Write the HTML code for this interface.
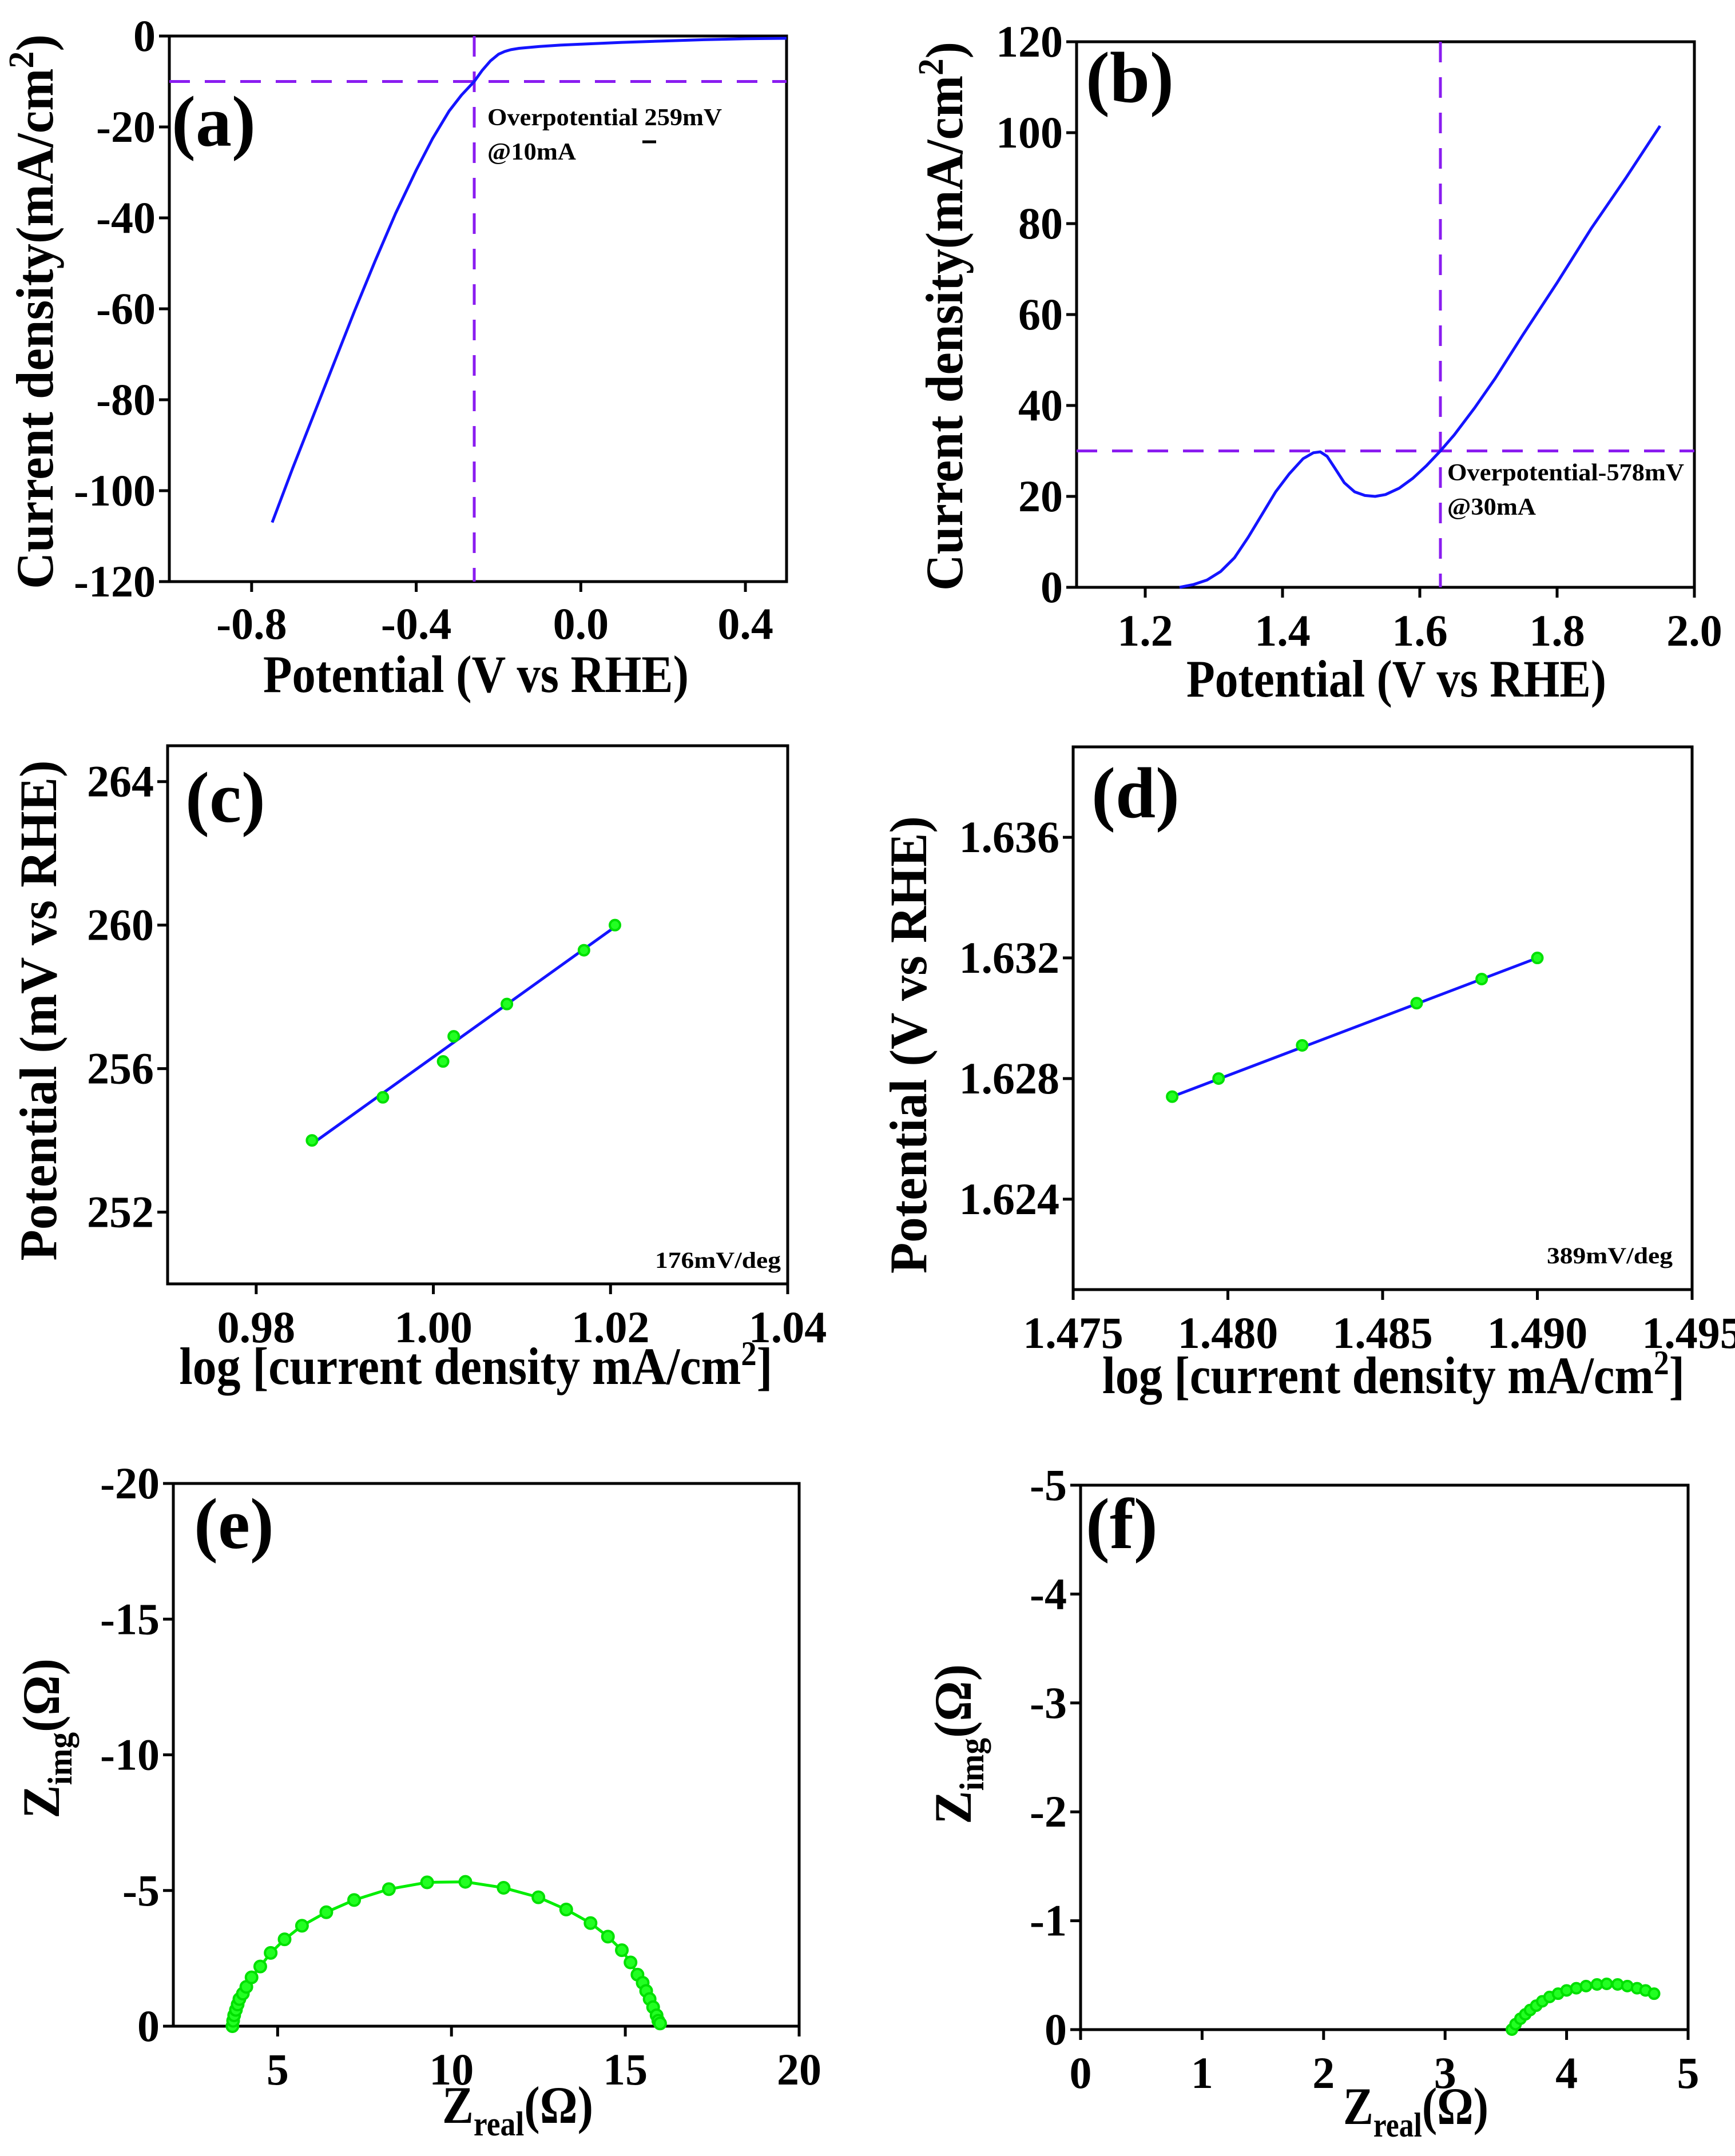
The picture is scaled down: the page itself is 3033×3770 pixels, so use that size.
<!DOCTYPE html>
<html><head><meta charset="utf-8"><style>
html,body{margin:0;padding:0;background:#fff;}
svg{display:block;}
text{font-family:"Liberation Serif","DejaVu Serif",serif;font-weight:bold;fill:#000;}
</style></head><body>
<svg id="fig" width="3033" height="3770" viewBox="0 0 3033 3770" xmlns="http://www.w3.org/2000/svg" font-family="Liberation Serif, DejaVu Serif, serif"></svg>
<script>
// ---- data ----
const aPotential = [-0.75,-0.7,-0.65,-0.6,-0.55,-0.5,-0.45,-0.4,-0.36,-0.32,-0.29,-0.259,-0.24,-0.22,-0.2,-0.185,-0.17,-0.15,-0.1,-0.05,0.0,0.1,0.2,0.3,0.4,0.5];
const aCurrent   = [-107,-95,-83.5,-72,-60.5,-49.5,-39,-29.5,-22.5,-16.5,-13,-10,-7.6,-5.5,-4.0,-3.4,-3.0,-2.7,-2.3,-2.0,-1.8,-1.4,-1.1,-0.8,-0.6,-0.5];
const aXTicks = [-0.8,-0.4,0.0,0.4];
const aXLabels = ["-0.8","-0.4","0.0","0.4"];
const aYTicks = [0,-20,-40,-60,-80,-100,-120];
const aYLabels = ["0","-20","-40","-60","-80","-100","-120"];

const bPotential = [1.25,1.27,1.29,1.31,1.33,1.35,1.37,1.39,1.41,1.43,1.445,1.455,1.465,1.475,1.49,1.505,1.52,1.535,1.55,1.57,1.59,1.61,1.63,1.65,1.68,1.71,1.75,1.80,1.85,1.90,1.95];
const bCurrent   = [0,0.6,1.6,3.5,6.5,11,16,21,25,28.3,29.6,29.8,28.8,26.5,23,21,20.2,20,20.4,21.8,24,26.8,30,33.5,39.5,46,55.5,67,79,90,101.5];
const bXTicks = [1.2,1.4,1.6,1.8,2.0];
const bXLabels = ["1.2","1.4","1.6","1.8","2.0"];
const bYTicks = [0,20,40,60,80,100,120];
const bYLabels = ["0","20","40","60","80","100","120"];

const cLogJ = [0.9863,0.9943,1.0011,1.0023,1.0083,1.0170,1.0205];
const cPot  = [254.0,255.2,256.2,256.9,257.8,259.3,260.0];
const cFitX = [0.9863,1.0205];
const cFitY = [253.9,259.95];
const cXTicks = [0.98,1.00,1.02,1.04];
const cXLabels = ["0.98","1.00","1.02","1.04"];
const cYTicks = [252,256,260,264];
const cYLabels = ["252","256","260","264"];

const dLogJ = [1.4782,1.4797,1.4824,1.4861,1.4882,1.4900];
const dPot  = [1.6274,1.6280,1.6291,1.6305,1.6313,1.6320];
const dFitX = [1.4782,1.4900];
const dFitY = [1.6274,1.6320];
const dXTicks = [1.475,1.480,1.485,1.490,1.495];
const dXLabels = ["1.475","1.480","1.485","1.490","1.495"];
const dYTicks = [1.624,1.628,1.632,1.636];
const dYLabels = ["1.624","1.628","1.632","1.636"];

const eZreal = [3.7,3.72,3.75,3.8,3.85,3.9,4.0,4.1,4.25,4.5,4.8,5.2,5.7,6.4,7.2,8.2,9.3,10.4,11.5,12.5,13.3,14.0,14.5,14.9,15.15,15.35,15.5,15.6,15.7,15.8,15.9,15.95,16.0];
const eZimg  = [0,-0.2,-0.4,-0.6,-0.8,-1.0,-1.2,-1.45,-1.8,-2.2,-2.7,-3.2,-3.7,-4.2,-4.65,-5.05,-5.3,-5.32,-5.1,-4.75,-4.3,-3.8,-3.3,-2.8,-2.35,-1.9,-1.6,-1.3,-1.0,-0.7,-0.4,-0.2,-0.1];
const eXTicks = [5,10,15,20];
const eXLabels = ["5","10","15","20"];
const eYTicks = [0,-5,-10,-15,-20];
const eYLabels = ["0","-5","-10","-15","-20"];

const fZreal = [3.55,3.58,3.62,3.66,3.7,3.75,3.8,3.86,3.93,4.0,4.08,4.16,4.25,4.33,4.42,4.5,4.58,4.65,4.72];
const fZimg  = [0,-0.05,-0.1,-0.14,-0.18,-0.22,-0.26,-0.3,-0.33,-0.36,-0.38,-0.4,-0.415,-0.42,-0.415,-0.4,-0.38,-0.36,-0.33];
const fXTicks = [0,1,2,3,4,5];
const fXLabels = ["0","1","2","3","4","5"];
const fYTicks = [0,-1,-2,-3,-4,-5];
const fYLabels = ["0","-1","-2","-3","-4","-5"];

const NS = "http://www.w3.org/2000/svg";
const svg = document.getElementById('fig');
function mk(tag, attrs, parent){
  const e = document.createElementNS(NS, tag);
  for (const k in attrs) e.setAttribute(k, attrs[k]);
  (parent||svg).appendChild(e);
  return e;
}
function scale(d0,d1,r0,r1){ return v => r0 + (v-d0)/(d1-d0)*(r1-r0); }

function axes(g, p, xs, ys, xT, xL, yT, yL, name){
  const fr = mk('rect',{x:p.L,y:p.T,width:p.R-p.L,height:p.B-p.T,fill:'none',stroke:'#000','stroke-width':5},g);
  
  
  xT.forEach((v,i)=>{
    const x = xs(v);
    const t = mk('line',{x1:x,x2:x,y1:p.B,y2:p.B+18,stroke:'#000','stroke-width':5},g);
    
    
    const tx = mk('text',{x:x,y:p.B+p.xlab,'font-size':78,'text-anchor':'middle'},g);
    tx.textContent = xL[i];
    
    
  });
  yT.forEach((v,i)=>{
    const y = ys(v);
    const t = mk('line',{x1:p.L-18,x2:p.L,y1:y,y2:y,stroke:'#000','stroke-width':5},g);
    
    
    const tx = mk('text',{x:p.L-24,y:y+26,'font-size':78,'text-anchor':'end'},g);
    tx.textContent = yL[i];
    
    
  });
}
function poly(g, xs, ys, X, Y, color, w, name){
  const pts = X.map((v,i)=>xs(v).toFixed(1)+','+ys(Y[i]).toFixed(1)).join(' ');
  const l = mk('polyline',{points:pts,fill:'none',stroke:color,'stroke-width':w,'stroke-linejoin':'round'},g);
  
  
}
function markers(g, xs, ys, X, Y, r, name){
  X.forEach((v,i)=>{
    const c = mk('circle',{cx:xs(v),cy:ys(Y[i]),r:r,fill:'#22ff22',stroke:'#00e000','stroke-width':4},g);
    
    
  });
}
function label(g, txt, x, y, size, name, anchor, len){
  const t = mk('text',{x:x,y:y,'font-size':size,'text-anchor':anchor||'start'},g);
  if (len){ t.setAttribute('textLength',len); t.setAttribute('lengthAdjust','spacingAndGlyphs'); }
  t.innerHTML = txt;
  
  
  return t;
}
function ytitle(g, html, cx, cy, len, name){
  const t = mk('text',{x:0,y:0,'font-size':92,'text-anchor':'middle',transform:`translate(${cx},${cy}) rotate(-90)`,textLength:len,lengthAdjust:'spacingAndGlyphs'},g);
  t.innerHTML = html;
  
  
}
function group(name){
  const g = mk('g',{});
  
  
  return g;
}
const dash = {'stroke':'#8a1cf0','stroke-width':5,'stroke-dasharray':'36,26',fill:'none'};

// ---- (a) ----
(function(){
  const g = group('panel-a-her-lsv');
  const p = {L:296,R:1375,T:63,B:1017,xlab:100};
  const xs = scale(-1.0,0.5,p.L,p.R), ys = scale(-120,0,p.B,p.T);
  axes(g,p,xs,ys,aXTicks,aXLabels,aYTicks,aYLabels,'panel-a');
  let h = mk('line',Object.assign({x1:p.L,x2:p.R,y1:ys(-10),y2:ys(-10)},dash),g);
   
  let v = mk('line',Object.assign({x1:xs(-0.259),x2:xs(-0.259),y1:p.T,y2:p.B},dash),g);
   
  poly(g,xs,ys,aPotential,aCurrent,'#1414ff',5,'panel-a-lsv-curve');
  label(g,'(a)',300,255,126,'panel-a-label');
  label(g,'Overpotential 259mV',852,219,42,'panel-a-annotation',null,410);
  label(g,'@10mA',852,279,42,'panel-a-annotation-current',null,155);
  let m = mk('line',{x1:1123,x2:1147,y1:248,y2:248,stroke:'#000','stroke-width':5},g);
   
  label(g,'Potential (V vs RHE)',832,1210,92,'panel-a-x-title','middle',744);
  ytitle(g,'Current density(mA/cm<tspan baseline-shift="super" font-size="62">2</tspan>)',92,545,970,'panel-a-y-title');
})();

// ---- (b) ----
(function(){
  const g = group('panel-b-oer-lsv');
  const p = {L:1882,R:2962,T:73,B:1027,xlab:102};
  const xs = scale(1.1,2.0,p.L,p.R), ys = scale(0,120,p.B,p.T);
  axes(g,p,xs,ys,bXTicks,bXLabels,bYTicks,bYLabels,'panel-b');
  let h = mk('line',Object.assign({x1:p.L,x2:p.R,y1:ys(30),y2:ys(30)},dash),g);
   
  let v = mk('line',Object.assign({x1:xs(1.63),x2:xs(1.63),y1:p.T,y2:p.B},dash),g);
   
  poly(g,xs,ys,bPotential,bCurrent,'#1414ff',5,'panel-b-lsv-curve');
  label(g,'(b)',1898,178,126,'panel-b-label');
  label(g,'Overpotential-578mV',2530,840,42,'panel-b-annotation',null,414);
  label(g,'@30mA',2530,900,42,'panel-b-annotation-current',null,155);
  label(g,'Potential (V vs RHE)',2441,1218,92,'panel-b-x-title','middle',734);
  ytitle(g,'Current density(mA/cm<tspan baseline-shift="super" font-size="62">2</tspan>)',1682,553,960,'panel-b-y-title');
})();

// ---- (c) ----
(function(){
  const g = group('panel-c-her-tafel');
  const p = {L:293,R:1377,T:1304,B:2245,xlab:102};
  const xs = scale(0.97,1.04,p.L,p.R), ys = scale(250,265,p.B,p.T);
  axes(g,p,xs,ys,cXTicks,cXLabels,cYTicks,cYLabels,'panel-c');
  poly(g,xs,ys,cFitX,cFitY,'#1414ff',5,'panel-c-fit-line');
  markers(g,xs,ys,cLogJ,cPot,9,'panel-c-data-point');
  label(g,'(c)',324,1437,126,'panel-c-label');
  label(g,'176mV/deg',1365,2217,40,'panel-c-slope-label','end',220);
  label(g,'log [current density mA/cm<tspan baseline-shift="super" font-size="60">2</tspan>]',832,2420,92,'panel-c-x-title','middle',1037);
  ytitle(g,'Potential (mV vs RHE)',98,1767,875,'panel-c-y-title');
})();

// ---- (d) ----
(function(){
  const g = group('panel-d-oer-tafel');
  const p = {L:1876,R:2958,T:1306,B:2255,xlab:102};
  const xs = scale(1.475,1.495,p.L,p.R), ys = scale(1.621,1.639,p.B,p.T);
  axes(g,p,xs,ys,dXTicks,dXLabels,dYTicks,dYLabels,'panel-d');
  poly(g,xs,ys,dFitX,dFitY,'#1414ff',5,'panel-d-fit-line');
  markers(g,xs,ys,dLogJ,dPot,9,'panel-d-data-point');
  label(g,'(d)',1908,1429,126,'panel-d-label');
  label(g,'389mV/deg',2924,2209,40,'panel-d-slope-label','end',220);
  label(g,'log [current density mA/cm<tspan baseline-shift="super" font-size="60">2</tspan>]',2436,2436,92,'panel-d-x-title','middle',1018);
  ytitle(g,'Potential (V vs RHE)',1619,1827,800,'panel-d-y-title');
})();

// ---- (e) ----
(function(){
  const g = group('panel-e-her-nyquist');
  const p = {L:303,R:1397,T:2594,B:3543,xlab:102};
  const xs = scale(2,20,p.L,p.R), ys = scale(0,-20,p.B,p.T);
  axes(g,p,xs,ys,eXTicks,eXLabels,eYTicks,eYLabels,'panel-e');
  poly(g,xs,ys,eZreal,eZimg,'#00ee00',5,'panel-e-nyquist-line');
  markers(g,xs,ys,eZreal,eZimg,10,'panel-e-data-point');
  label(g,'(e)',339,2707,126,'panel-e-label');
  label(g,'Z<tspan font-size="60" dy="22">real</tspan><tspan dy="-22">(Ω)</tspan>',905,3712,92,'panel-e-x-title','middle',264);
  ytitle(g,'Z<tspan font-size="60" dy="22">img</tspan><tspan dy="-22">(Ω)</tspan>',103,3040,280,'panel-e-y-title');
})();

// ---- (f) ----
(function(){
  const g = group('panel-f-oer-nyquist');
  const p = {L:1889,R:2951,T:2597,B:3549,xlab:102};
  const xs = scale(0,5,p.L,p.R), ys = scale(0,-5,p.B,p.T);
  axes(g,p,xs,ys,fXTicks,fXLabels,fYTicks,fYLabels,'panel-f');
  poly(g,xs,ys,fZreal,fZimg,'#00ee00',5,'panel-f-nyquist-line');
  markers(g,xs,ys,fZreal,fZimg,9,'panel-f-data-point');
  label(g,'(f)',1898,2707,126,'panel-f-label');
  label(g,'Z<tspan font-size="60" dy="22">real</tspan><tspan dy="-22">(Ω)</tspan>',2475,3714,92,'panel-f-x-title','middle',254);
  ytitle(g,'Z<tspan font-size="60" dy="22">img</tspan><tspan dy="-22">(Ω)</tspan>',1697,3050,280,'panel-f-y-title');
})();
</script>
</body></html>
